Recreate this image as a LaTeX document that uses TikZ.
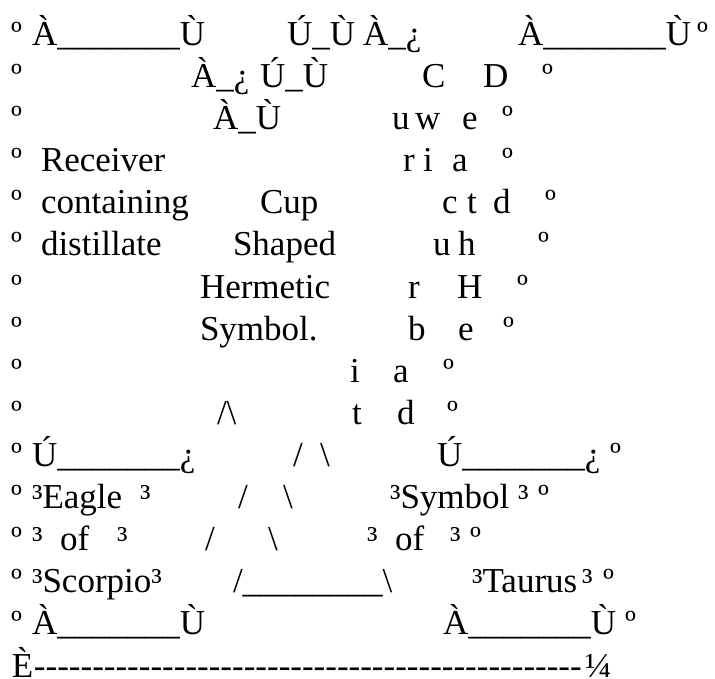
\documentclass[tikz,border=0pt]{standalone}
\usepackage{fontspec}
\setmainfont{Liberation Serif}[Ligatures=TeXOff]
\tikzset{txt/.style={anchor=base west, inner sep=0pt, outer sep=0pt, font=\fontsize{35}{42}\selectfont}}
\newcommand\tx[4]{\node[txt] (#1) at (#2,{-(45.5+42.1*(#3-1))}) {#4};}
\newcommand\usev{\_\_\_\_\_\_\_}
\newcommand\useight{\_\_\_\_\_\_\_\_}
\newcommand\bsl{\textbackslash}
\begin{document}
\begin{tikzpicture}[x=1pt,y=1pt]
\useasboundingbox[fill=white] (0,0) rectangle (715,-679);
% left border ordinals
\foreach \r in {1,...,15} {\node[txt] (o\r) at (11,{-(45.5+42.1*(\r-1))}) {º};}
% row 1
\tx{a1}{32}{1}{À\usev Ù}
\tx{b1}{287}{1}{Ú\_Ù}
\tx{c1}{363}{1}{À\_¿}
\tx{d1}{518}{1}{À\usev Ù}
\tx{e1}{697}{1}{º}
% row 2
\tx{a2}{191}{2}{À\_¿}
\tx{b2}{260}{2}{Ú\_Ù}
\tx{c2}{422}{2}{C}
\tx{d2}{483}{2}{D}
\tx{e2}{542}{2}{º}
% row 3
\tx{a3}{213}{3}{À\_Ù}
\tx{b3}{392}{3}{u}
\tx{c3}{415}{3}{w}
\tx{d3}{462}{3}{e}
\tx{e3}{502}{3}{º}
% row 4
\tx{a4}{41}{4}{Receiver}
\tx{b4}{403}{4}{r}
\tx{c4}{423}{4}{i}
\tx{d4}{452}{4}{a}
\tx{e4}{502}{4}{º}
% row 5
\tx{a5}{41}{5}{containing}
\tx{f5}{260}{5}{Cup}
\tx{b5}{442}{5}{c}
\tx{c5}{467}{5}{t}
\tx{d5}{493}{5}{d}
\tx{e5}{545}{5}{º}
% row 6
\tx{a6}{41}{6}{distillate}
\tx{f6}{233}{6}{Shaped}
\tx{b6}{433}{6}{u}
\tx{c6}{458}{6}{h}
\tx{e6}{538}{6}{º}
% row 7
\tx{f7}{200}{7}{Hermetic}
\tx{b7}{408}{7}{r}
\tx{c7}{457}{7}{H}
\tx{e7}{517}{7}{º}
% row 8
\tx{f8}{200}{8}{Symbol.}
\tx{b8}{408}{8}{b}
\tx{c8}{458}{8}{e}
\tx{e8}{503}{8}{º}
% row 9
\tx{b9}{350}{9}{i}
\tx{c9}{393}{9}{a}
\tx{e9}{443}{9}{º}
% row 10
\tx{p10}{217}{10}{/\bsl}
\tx{b10}{352}{10}{t}
\tx{c10}{397}{10}{d}
\tx{e10}{447}{10}{º}
% row 11
\tx{a11}{32}{11}{Ú\usev ¿}
\tx{p11}{293}{11}{/}
\tx{q11}{320}{11}{\bsl}
\tx{d11}{437}{11}{Ú\usev ¿}
\tx{e11}{610}{11}{º}
% row 12
\tx{a12}{32}{12}{³Eagle}
\tx{g12}{140}{12}{³}
\tx{p12}{238}{12}{/}
\tx{q12}{283}{12}{\bsl}
\tx{d12}{390}{12}{³Symbol}
\tx{h12}{518}{12}{³}
\tx{e12}{538}{12}{º}
% row 13
\tx{a13}{32}{13}{³}
\tx{f13}{60}{13}{of}
\tx{g13}{117}{13}{³}
\tx{p13}{205}{13}{/}
\tx{q13}{268}{13}{\bsl}
\tx{d13}{367}{13}{³}
\tx{i13}{395}{13}{of}
\tx{h13}{450}{13}{³}
\tx{e13}{470}{13}{º}
% row 14
\tx{a14}{32}{14}{³Scorpio³}
\tx{p14}{233}{14}{/\useight\bsl}
\tx{d14}{472}{14}{³Taurus}
\tx{h14}{582}{14}{³}
\tx{e14}{603}{14}{º}
% row 15
\tx{a15}{32}{15}{À\usev Ù}
\tx{d15}{443}{15}{À\usev Ù}
\tx{e15}{625}{15}{º}
% row 16
\tx{a16}{12}{16}{È}
\tx{m16}{34}{16}{-----------------------------------------------}
\tx{z16}{585}{16}{¼}
\end{tikzpicture}
\end{document}
